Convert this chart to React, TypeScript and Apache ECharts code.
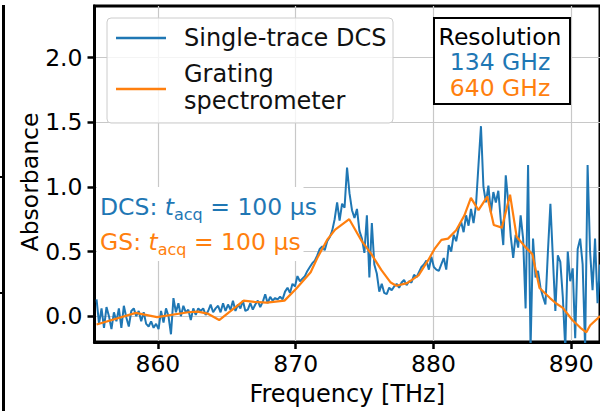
import React, { useEffect, useRef } from "react";
import * as echarts from "echarts";

// Single-trace DCS absorbance, sampled on a uniform frequency grid
const DCS_START_THZ = 855.55;
const DCS_STEP_THZ = 0.18;
const DCS_ABSORBANCE = [
  0.13, -0.06, 0.06, -0.09, 0.07, 0.0, -0.1, 0.03, -0.04, 0.06,
  -0.09, 0.08, -0.01, -0.08, 0.04, 0.06, 0.0, 0.04, -0.04, 0.03,
  -0.06, -0.08, -0.04, -0.09, -0.06, -0.1, 0.04, -0.05, 0.06, 0.0,
  -0.14, 0.14, 0.03, 0.1, 0.0, 0.08, 0.03, 0.05, -0.03, 0.06,
  0.01, 0.06, 0.04, 0.06, 0.01, 0.04, 0.09, 0.03, 0.06, 0.08,
  0.03, 0.1, 0.04, 0.09, 0.05, 0.12, 0.04, 0.09, 0.06, 0.12,
  0.04, 0.05, 0.1, 0.05, 0.09, 0.12, 0.07, 0.11, 0.17, 0.1,
  0.15, 0.12, 0.14, 0.13, 0.15, 0.13, 0.19, 0.22, 0.18, 0.25,
  0.23, 0.31, 0.27, 0.29, 0.31, 0.35, 0.38, 0.41, 0.43, 0.47,
  0.52, 0.54, 0.51, 0.58, 0.61, 0.66, 0.75, 0.88, 0.74, 0.87,
  0.84, 1.15, 0.95, 0.82, 0.76, 0.83, 0.66, 0.6, 0.49, 0.78,
  0.3, 0.72, 0.4, 0.33, 0.19, 0.25, 0.18, 0.17, 0.22, 0.2,
  0.23, 0.25, 0.22, 0.26, 0.28, 0.24, 0.27, 0.26, 0.32, 0.3,
  0.34, 0.38, 0.4, 0.43, 0.36, 0.46, 0.38, 0.36, 0.35, 0.4,
  0.45, 0.36, 0.55, 0.5, 0.63, 0.58, 0.68, 0.73, 0.65, 0.78,
  0.7, 0.83, 0.72, 0.86, 1.17, 1.47, 1.0, 0.88, 1.01, 0.8,
  0.96, 0.88, 0.97, 0.74, 0.55, 1.09, 0.88, 0.62, 0.45, 0.63,
  0.53, 0.78, 0.6, 0.06, 1.17, -0.25, 0.6, 0.3, 0.35, 0.22,
  0.15, 0.09, 0.5, 0.87, 0.45, 0.04, 0.47, 0.42, 0.15, -0.25,
  0.5, 0.27, 0.37, -0.17, 0.52, 0.6, 0.4, -0.25, 1.17, 0.5,
  0.2, 0.6, 0.1, 0.4,
];

// Grating spectrometer trace
const GS_FREQ_THZ = [
  855.55, 858.4, 859.94, 862.2, 862.9, 863.6, 864.45, 866.23, 867.0, 867.9,
  869.19, 870.02, 871.09, 871.57, 872.28, 872.87, 873.89, 874.8, 875.5, 876.2,
  876.9, 877.3, 878.09, 878.92, 879.63, 880.11, 880.58, 881.06, 881.65, 882.25,
  882.72, 883.27, 883.91, 884.38, 884.97, 885.56, 886.04, 886.63, 887.18, 887.7,
  888.46, 888.89, 889.39, 890.08, 890.67, 891.1, 891.38, 892.1,
];
const GS_ABSORBANCE = [
  -0.065, 0.025, -0.008, 0.03, 0.035, 0.02, -0.03, 0.12, 0.11, 0.105,
  0.12, 0.21, 0.34, 0.45, 0.59, 0.67, 0.75, 0.58, 0.48, 0.36,
  0.26, 0.235, 0.256, 0.315, 0.435, 0.525, 0.59, 0.6, 0.665, 0.78,
  0.915, 0.82, 0.925, 0.705, 0.685, 0.94, 0.615, 0.54, 0.48, 0.218,
  0.14, 0.1, 0.064, -0.03, -0.09, -0.125, -0.07, 0.0,
];

const X_TICKS = [860, 870, 880, 890];
const Y_TICKS = [0, 0.5, 1.0, 1.5, 2.0];

const BLUE = "#1f77b4";
const ORANGE = "#ff7f0e";
const FONT = "DejaVu Sans";

export default function App() {
  const ref = useRef<HTMLDivElement>(null);

  useEffect(() => {
    if (!ref.current) return;
    const chart = echarts.init(ref.current, null, { renderer: "svg" });

    const dcsData = DCS_ABSORBANCE.map((v, i) => [DCS_START_THZ + i * DCS_STEP_THZ, v]);
    const gsData = GS_FREQ_THZ.map((f, i) => [f, GS_ABSORBANCE[i]]);

    // rich-text styles for "t_acq" notes: italic t with a lowered, smaller subscript
    const note = (color: string) => ({
      a: { fontSize: 23.5, fontFamily: FONT, fill: color },
      t: { fontSize: 23.5, fontFamily: FONT, fontStyle: "italic", fill: color },
      s: { fontSize: 16, fontFamily: FONT, fill: color, padding: [14, 0, 0, 0] },
    });

    chart.setOption({
      animation: false,
      textStyle: { fontFamily: FONT },
      grid: {
        left: 94.5,
        top: 6,
        width: 515.5,
        height: 338,
        show: true,
        borderColor: "#000",
        borderWidth: 3,
        backgroundColor: "transparent",
      },
      xAxis: {
        type: "value",
        min: 855.4,
        max: 892.09,
        name: "Frequency [THz]",
        nameLocation: "middle",
        nameGap: 40,
        nameTextStyle: { fontSize: 24, color: "#000", fontFamily: FONT },
        axisLine: { show: true, onZero: false, lineStyle: { color: "#000", width: 3 } },
        axisTick: { show: true, length: 7, customValues: X_TICKS, lineStyle: { color: "#000", width: 2.5 } },
        axisLabel: { customValues: X_TICKS, fontSize: 23.5, color: "#000", margin: 10, fontFamily: FONT },
        splitLine: { show: true, lineStyle: { color: "#c8c8c8", width: 1.2 } },
      },
      yAxis: {
        type: "value",
        min: -0.2,
        max: 2.4,
        axisLine: { show: true, onZero: false, lineStyle: { color: "#000", width: 3 } },
        axisTick: { show: true, length: 7, customValues: Y_TICKS, lineStyle: { color: "#000", width: 2.5 } },
        axisLabel: {
          customValues: Y_TICKS,
          fontSize: 23.5,
          color: "#000",
          margin: 12,
          fontFamily: FONT,
          formatter: (v: number) => v.toFixed(1),
        },
        splitLine: { show: true, lineStyle: { color: "#c8c8c8", width: 1.2 } },
      },
      series: [
        {
          name: "Single-trace DCS",
          type: "line",
          data: dcsData,
          showSymbol: false,
          clip: true,
          z: 2,
          lineStyle: { color: BLUE, width: 2 },
          itemStyle: { color: BLUE },
        },
        {
          name: "Grating spectrometer",
          type: "line",
          data: gsData,
          showSymbol: false,
          clip: true,
          z: 3,
          lineStyle: { color: ORANGE, width: 2.2 },
          itemStyle: { color: ORANGE },
        },
      ],
      graphic: [
        // y-axis title
        {
          type: "text",
          z: 6,
          x: 30,
          y: 182,
          rotation: Math.PI / 2,
          style: {
            text: "Absorbance",
            fontSize: 23.5,
            fontFamily: FONT,
            fill: "#000",
            align: "center",
            verticalAlign: "middle",
          },
        },

        // right spine of the neighbouring panel
        { type: "line", z: 10, shape: { x1: 3.5, y1: 5, x2: 3.5, y2: 411 }, style: { stroke: "#000", lineWidth: 3 } },
        { type: "line", z: 10, shape: { x1: 0, y1: 177, x2: 3, y2: 177 }, style: { stroke: "#000", lineWidth: 2 } },
        { type: "line", z: 10, shape: { x1: 0, y1: 293, x2: 3, y2: 293 }, style: { stroke: "#000", lineWidth: 2 } },

        // backing box of the acquisition-time notes
        { type: "rect", z: 1, shape: { x: 97, y: 187, width: 206.5, height: 74 }, style: { fill: "#fff" } },
        {
          type: "text",
          z: 6,
          x: 100,
          y: 207,
          style: { text: "{a|DCS: }{t|t}{s|acq}{a| = 100 μs}", rich: note(BLUE), verticalAlign: "middle" },
        },
        {
          type: "text",
          z: 6,
          x: 100,
          y: 242,
          style: { text: "{a|GS: }{t|t}{s|acq}{a| = 100 μs}", rich: note(ORANGE), verticalAlign: "middle" },
        },

        // legend
        {
          type: "rect",
          z: 8,
          shape: { x: 107, y: 18, width: 286, height: 105, r: 4 },
          style: { fill: "rgba(255,255,255,0.8)", stroke: "#cccccc", lineWidth: 1 },
        },
        { type: "line", z: 9, shape: { x1: 116, y1: 38, x2: 166, y2: 38 }, style: { stroke: BLUE, lineWidth: 2.5 } },
        { type: "line", z: 9, shape: { x1: 116, y1: 89, x2: 166, y2: 89 }, style: { stroke: ORANGE, lineWidth: 2.5 } },
        {
          type: "text",
          z: 9,
          x: 184,
          y: 38,
          style: { text: "Single-trace DCS", fontSize: 24, fontFamily: FONT, fill: "#111", verticalAlign: "middle" },
        },
        {
          type: "text",
          z: 9,
          x: 184,
          y: 87,
          style: {
            text: "Grating\nspectrometer",
            fontSize: 24,
            lineHeight: 27,
            fontFamily: FONT,
            fill: "#111",
            verticalAlign: "middle",
          },
        },

        // resolution box: one three-line text block
        {
          type: "rect",
          z: 8,
          shape: { x: 434, y: 18, width: 136, height: 86 },
          style: { fill: "#fff", stroke: "#000", lineWidth: 2 },
        },
        {
          type: "text",
          z: 9,
          x: 500,
          y: 62,
          style: {
            text: "{k|Resolution}\n{b|134 GHz}\n{o|640 GHz}",
            align: "center",
            verticalAlign: "middle",
            rich: {
              k: { fontSize: 23.5, fontFamily: FONT, fill: "#000", lineHeight: 25.5 },
              b: { fontSize: 23.5, fontFamily: FONT, fill: BLUE, lineHeight: 25.5 },
              o: { fontSize: 23.5, fontFamily: FONT, fill: ORANGE, lineHeight: 25.5 },
            },
          },
        },
      ],
    });

    return () => chart.dispose();
  }, []);

  return (
    <div
      ref={ref}
      style={{ position: "absolute", left: 0, top: 0, width: 600, height: 411, background: "#fff" }}
    />
  );
}
